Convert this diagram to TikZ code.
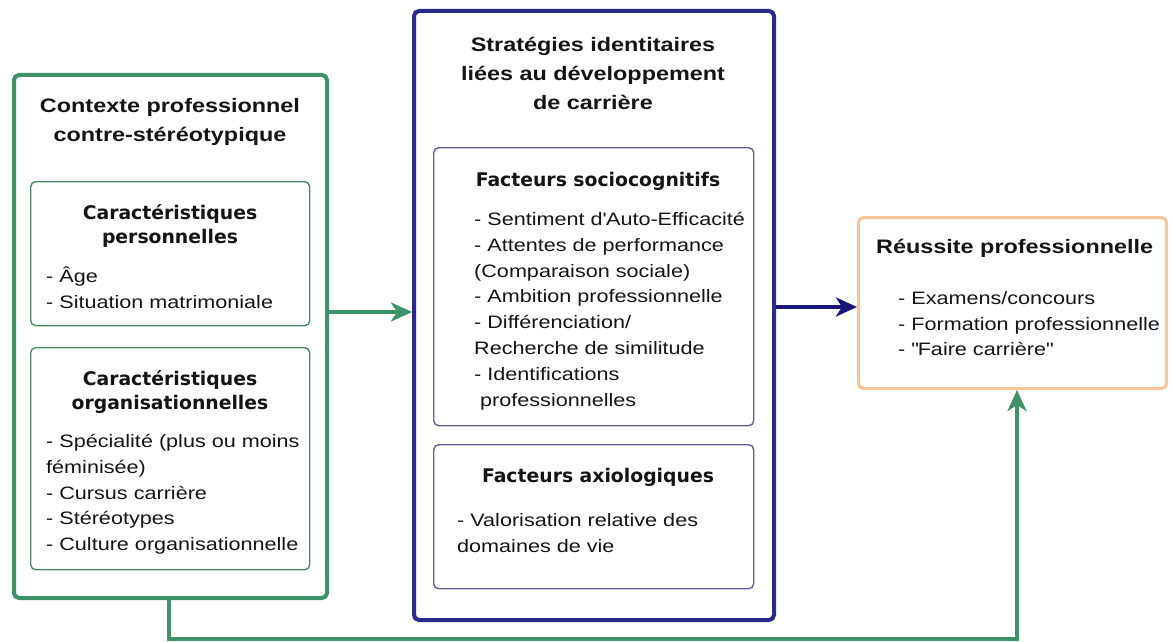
\documentclass[tikz,border=0pt]{standalone}
\usepackage{fontspec}
\setmainfont{Liberation Sans}[FakeStretch=1.2]
\newfontfamily\headfont{DejaVu Sans}
\usetikzlibrary{arrows.meta}

\definecolor{ctxgreen}{RGB}{62,146,104}
\definecolor{subgreen}{RGB}{70,140,98}
\definecolor{stratblue}{RGB}{42,42,140}
\definecolor{subblue}{RGB}{96,96,150}
\definecolor{arrowblue}{RGB}{22,22,118}
\definecolor{resorange}{RGB}{246,198,150}
\definecolor{inktext}{RGB}{20,20,20}

\tikzset{
  outerbox/.style={draw, line width=4pt, rounded corners=5pt, anchor=north west, inner sep=0pt},
  innerbox/.style={draw, line width=1.4pt, rounded corners=5pt, anchor=north west, inner sep=0pt},
  titletext/.style={font=\fontsize{19.5}{29}\selectfont\bfseries, text=inktext, align=center, inner sep=0pt},
  headtext/.style={font=\headfont\fontsize{18.8}{24}\selectfont\bfseries, text=inktext, align=center, inner sep=0pt},
  bodytext/.style={font=\fontsize{18}{25.8}\selectfont, text=inktext, align=left, inner sep=0pt, anchor=north west},
  flow/.style={line width=3.6pt, -{Stealth[length=21pt,width=19pt,inset=6pt]}},
}

\begin{document}
\begin{tikzpicture}[x=1pt,y=-1pt]
\useasboundingbox (0,0) rectangle (1173,642);

% Contexte professionnel
\node[outerbox, draw=ctxgreen, minimum width=313pt, minimum height=523pt] (ctx) at (12,73) {};
\node[titletext] (ctxtitle) at (170,122) {Contexte professionnel\\contre-stéréotypique};

\node[innerbox, draw=subgreen, minimum width=279pt, minimum height=144pt] (pers) at (30,181) {};
\node[headtext] (perstitle) at (170,226) {Caractéristiques\\personnelles};
\node[bodytext] (perslist) at (46,267) {- Âge\\- Situation matrimoniale};

\node[innerbox, draw=subgreen, minimum width=279pt, minimum height=222pt] (org) at (30,347) {};
\node[headtext] (orgtitle) at (170,392) {Caractéristiques\\organisationnelles};
\node[bodytext] (orglist) at (46,434) {- Spécialité (plus ou moins\\féminisée)\\- Cursus carrière\\- Stéréotypes\\- Culture organisationnelle};

% Stratégies identitaires
\node[outerbox, draw=stratblue, minimum width=360pt, minimum height=609pt] (strat) at (412,9) {};
\node[titletext] (strattitle) at (593,73) {Stratégies identitaires\\liées au développement\\de carrière};

\node[innerbox, draw=subblue, minimum width=320pt, minimum height=278pt] (socio) at (433,147) {};
\node[headtext] (sociotitle) at (598,181) {Facteurs sociocognitifs};
\node[bodytext] (sociolist) at (474,212) {- Sentiment d\textquotesingle Auto-Efficacité\\- Attentes de performance\\(Comparaison sociale)\\- Ambition professionnelle\\- Différenciation/\\Recherche de similitude\\- Identifications\\\hspace*{6pt}professionnelles};

\node[innerbox, draw=subblue, minimum width=320pt, minimum height=144pt] (axio) at (433,444) {};
\node[headtext] (axiotitle) at (598,477) {Facteurs axiologiques};
\node[bodytext] (axiolist) at (457,513) {- Valorisation relative des\\domaines de vie};

% Réussite professionnelle
\node[outerbox, draw=resorange, line width=3pt, minimum width=308pt, minimum height=171pt] (res) at (857,216) {};
\node[titletext, anchor=west] (restitle) at (876,248) {Réussite professionnelle};
\node[bodytext] (reslist) at (898,291) {- Examens/concours\\- Formation professionnelle\\- \textquotedbl Faire carrière\textquotedbl};

% Liens
\draw[flow, ctxgreen] (ctx.east |- 0,312) -- (strat.west |- 0,312);
\draw[flow, arrowblue] (strat.east |- 0,307) -- (res.west |- 0,307);
\coordinate (fbA) at (169,639);
\coordinate (fbB) at (1017,639);
\draw[flow, ctxgreen] (ctx.south -| fbA) -- (fbA) -- (fbB) -- (res.south -| fbB);
\end{tikzpicture}
\end{document}
